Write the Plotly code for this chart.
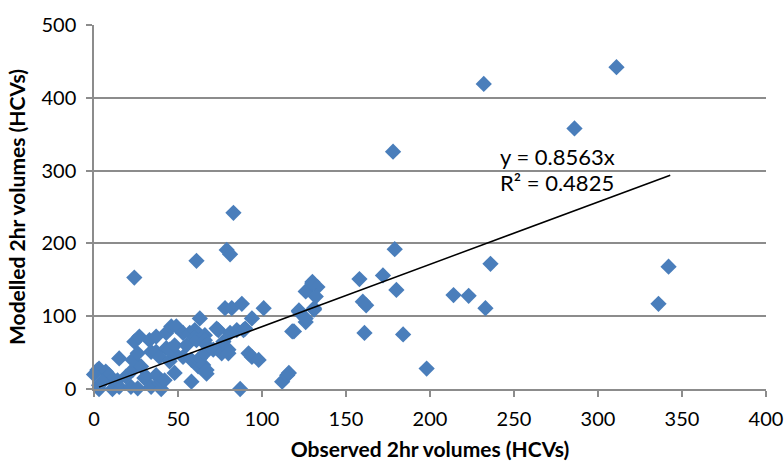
import plotly.graph_objects as go

observed = [3, 11, 15, 22, 3, 3, 2, 7, 9, 11, 14, 15, 19, 23, 23, 26, 28, 30, 31, 34, 37, 39, 40, 40,
            24, 27, 33, 37, 43, 46, 49, 26, 34, 37, 39, 43, 45, 46, 48, 45, 48, 48, 53, 53, 57, 55, 58, 58, 42,
            60, 60, 61, 62, 62, 63, 63, 65, 66, 66, 66, 67, 67, 67, 71, 73, 74, 74, 76, 77, 78, 80, 80, 81, 82,
            85, 88, 89, 90, 87, 92, 94, 94, 98, 101, 24, 61, 79, 81, 83,
            112, 115, 116, 118, 119, 122, 122, 126, 126, 126, 130, 130, 133, 132, 131, 131, 158, 160, 162, 161,
            172, 179, 180, 184, 198, 214, 223, 233, 236, 178, 232, 286, 311, 336, 342, 0, 5]
modelled = [0, 0, 3, 3, 5, 28, 26, 24, 19, 12, 12, 42, 17, 26, 40, 1, 31, 15, 17, 3, 19, 8, 0, 12,
            65, 72, 67, 72, 77, 86, 86, 49, 51, 51, 44, 56, 38, 51, 49, 54, 60, 22, 77, 44, 77, 60, 40, 10, 12,
            81, 70, 67, 31, 40, 42, 97, 33, 74, 49, 67, 21, 26, 60, 54, 83, 81, 54, 49, 65, 111, 54, 49, 77, 111,
            81, 117, 81, 83, 0, 49, 97, 44, 40, 111, 153, 176, 191, 185, 242,
            10, 19, 22, 79, 79, 106, 108, 92, 97, 134, 147, 145, 140, 127, 109, 111, 151, 120, 115, 77,
            156, 192, 136, 75, 28, 129, 128, 111, 172, 326, 419, 358, 442, 117, 168, 20, 10]

slope = 0.8563
r_squared = 0.4825
trend_x = [3, 343]
trend_y = [slope * v for v in trend_x]

x_ticks = [0, 50, 100, 150, 200, 250, 300, 350, 400]
y_ticks = [0, 100, 200, 300, 400, 500]

FONT = "Lato"
GRID = "#8C8C8C"

fig = go.Figure()
fig.add_trace(go.Scatter(
    x=observed, y=modelled, mode="markers",
    marker=dict(symbol="diamond", size=12.5, color="#4A7EBB", line=dict(width=0)),
    cliponaxis=False, showlegend=False,
))
fig.add_trace(go.Scatter(
    x=trend_x, y=trend_y, mode="lines",
    line=dict(color="black", width=1.5), showlegend=False, cliponaxis=False,
))

fig.add_annotation(
    x=240.5, y=319, xref="x", yref="y", xanchor="left", yanchor="middle", showarrow=False,
    text=f"y = {slope}x", font=dict(family=FONT, size=22, color="black"),
)
fig.add_annotation(
    x=240.5, y=283, xref="x", yref="y", xanchor="left", yanchor="middle", showarrow=False,
    text=f"R² = {r_squared}", font=dict(family=FONT, size=22, color="black"),
)

fig.update_layout(
    width=784, height=465,
    margin=dict(l=94, r=18, t=25, b=76),
    paper_bgcolor="white", plot_bgcolor="white",
    font=dict(family=FONT, size=20, color="black"),
)
fig.update_xaxes(
    range=[0, 400], tickvals=x_ticks, ticktext=[str(v) for v in x_ticks],
    ticklabeloverflow="allow", automargin=False, ticklabelstandoff=5,
    showgrid=False, showline=True, linecolor=GRID, linewidth=1.5,
    ticks="outside", ticklen=6, tickcolor=GRID, tickwidth=1.5,
    zeroline=False,
    title=dict(text="<b>Observed 2hr volumes (HCVs)</b>", font=dict(family=FONT, size=21), standoff=14),
)
fig.update_yaxes(
    range=[0, 500], tickvals=y_ticks, ticktext=[str(v) for v in y_ticks],
    ticklabeloverflow="allow", automargin=False, ticklabelstandoff=6,
    showgrid=True, gridcolor=GRID, gridwidth=1.5,
    showline=True, linecolor=GRID, linewidth=1.5,
    ticks="outside", ticklen=6, tickcolor=GRID, tickwidth=1.5,
    zeroline=False,
    title=dict(text="<b>Modelled 2hr volumes (HCVs)</b>", font=dict(family=FONT, size=21), standoff=10),
)

fig.write_html("out.html")
